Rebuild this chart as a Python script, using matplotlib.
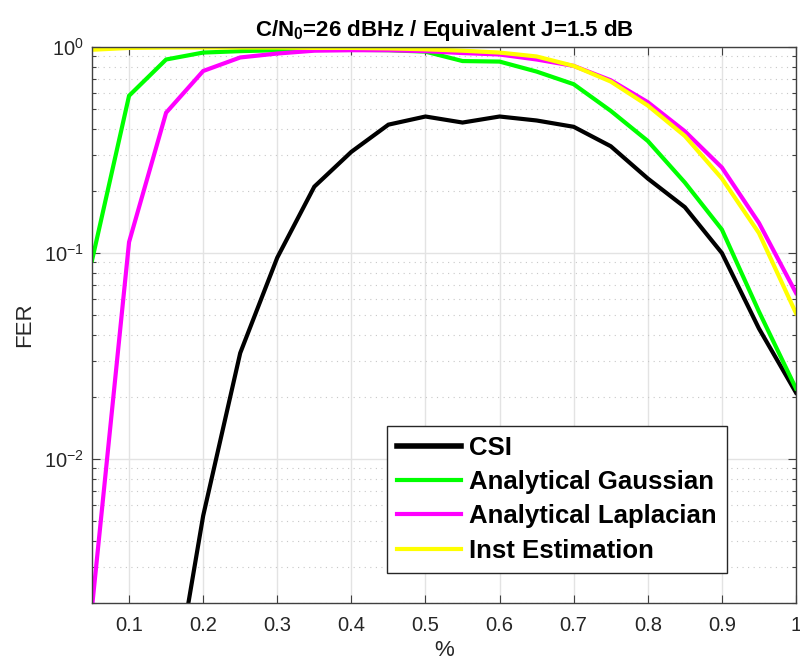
import numpy as np
import matplotlib
matplotlib.use("Agg")
import matplotlib.pyplot as plt
from matplotlib.ticker import LogLocator, NullFormatter, FixedLocator, FixedFormatter

plt.rcParams['font.family'] = ['Liberation Sans', 'DejaVu Sans']
plt.rcParams['mathtext.fontset'] = 'custom'
plt.rcParams['mathtext.rm'] = 'Liberation Sans'
plt.rcParams['mathtext.bf'] = 'Liberation Sans:bold'
plt.rcParams['mathtext.it'] = 'Liberation Sans:italic'

x = [0.05, 0.10, 0.15, 0.20, 0.25, 0.30, 0.35, 0.40, 0.45, 0.50,
     0.55, 0.60, 0.65, 0.70, 0.75, 0.80, 0.85, 0.90, 0.95, 1.00]
csi = [1e-6, 2e-5, 0.00046, 0.0053, 0.0327, 0.095, 0.21, 0.31, 0.42, 0.46,
       0.43, 0.46, 0.44, 0.41, 0.33, 0.23, 0.167, 0.10, 0.043, 0.021]
gauss = [0.092, 0.58, 0.87, 0.94, 0.955, 0.965, 0.97, 0.97, 0.965, 0.95,
         0.855, 0.85, 0.76, 0.66, 0.49, 0.35, 0.22, 0.13, 0.052, 0.022]
laplace = [0.0019, 0.113, 0.48, 0.765, 0.89, 0.93, 0.96, 0.965, 0.965, 0.955,
           0.935, 0.92, 0.87, 0.81, 0.69, 0.54, 0.39, 0.26, 0.14, 0.064]
inst = [0.97, 0.99, 0.995, 0.995, 0.995, 0.995, 0.99, 0.99, 0.985, 0.975,
        0.96, 0.94, 0.9, 0.81, 0.68, 0.52, 0.37, 0.23, 0.125, 0.051]
labels = ["CSI", "Analytical Gaussian", "Analytical Laplacian", "Inst Estimation"]
colors = ["#000000", "#00ff00", "#ff00ff", "#ffff00"]
xticks = [0.1, 0.2, 0.3, 0.4, 0.5, 0.6, 0.7, 0.8, 0.9, 1.0]
xticklabels = ["0.1", "0.2", "0.3", "0.4", "0.5", "0.6", "0.7", "0.8", "0.9", "1"]
yticks = [1e-2, 1e-1, 1e0]
yticklabels = [r"$\mathregular{10^{-2}}$", r"$\mathregular{10^{-1}}$", r"$\mathregular{10^{0}}$"]

fig = plt.figure(figsize=(8.0, 6.71), dpi=100)
ax = fig.add_axes([0.115, 0.1013, 0.88, 0.8286])

for series, lab, c in zip([csi, gauss, laplace, inst], labels, colors):
    ax.plot(x, series, color=c, lw=3.0, label=lab, solid_joinstyle='miter')

ax.set_yscale('log')
ax.set_xlim(0.05, 1.0)
ax.set_ylim(0.002, 1.0)
ax.set_xticks(xticks)
ax.set_xticklabels(xticklabels)
ax.yaxis.set_major_locator(FixedLocator(yticks))
ax.yaxis.set_major_formatter(FixedFormatter(yticklabels))
ax.yaxis.set_minor_locator(LogLocator(base=10, subs=np.arange(2, 10), numticks=20))
ax.yaxis.set_minor_formatter(NullFormatter())

ax.grid(True, which='major', color='#e3e3e3', lw=1.0, ls='-')
ax.grid(True, which='minor', axis='y', color='#c8c8c8', lw=0.8, ls=(0, (1, 4)))
ax.set_axisbelow(True)

ax.tick_params(which='both', direction='in', top=True, right=True,
               colors='#404040', labelcolor='#262626')
ax.tick_params(which='major', length=6, width=0.8, labelsize=14.5)
ax.tick_params(axis='x', which='major', pad=9)
ax.tick_params(axis='y', which='major', pad=6, labelsize=14.5)
ax.tick_params(which='minor', length=3, width=0.8)
for s in ax.spines.values():
    s.set_color('#404040')
    s.set_linewidth(1.0)

ax.set_xlabel('%', fontsize=16, color='#262626', labelpad=4)
ax.set_ylabel('FER', fontsize=16, color='#262626', labelpad=6)
ax.set_title(r'C/N$_\mathbf{0}$=26 dBHz / Equivalent J=1.5 dB', fontsize=16,
             fontweight='bold', pad=8)

leg = ax.legend(loc='lower right', bbox_to_anchor=(0.902, 0.054), borderaxespad=0,
                prop={'weight': 'bold', 'size': 18.5},
                frameon=True, fancybox=False, edgecolor='#262626', framealpha=1,
                handlelength=2.5, handletextpad=0.3, borderpad=0.4, labelspacing=0.4)
leg.get_frame().set_linewidth(1.0)
leg.get_lines()[0].set_linewidth(4.0)

fig.savefig('out.png', dpi=100)
